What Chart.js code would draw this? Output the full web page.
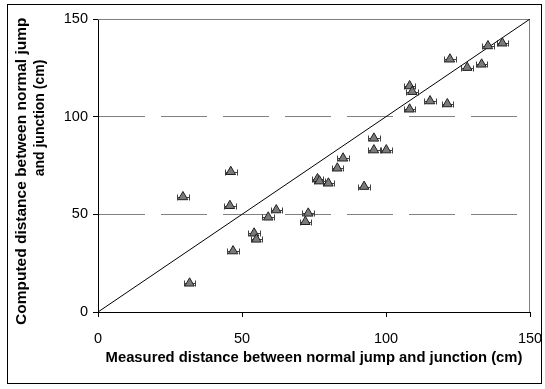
<!DOCTYPE html>
<html>
<head>
<meta charset="utf-8">
<script src="https://cdn.jsdelivr.net/npm/chart.js@4/dist/chart.umd.min.js"></script>
<style>
  html, body { margin: 0; padding: 0; background: #fff; }
  #wrap { position: relative; width: 545px; height: 389px; }
  #frame { position: absolute; left: 7px; top: 4px; width: 535px; height: 380px; border: 1px solid #000; box-sizing: border-box; pointer-events: none; }
  canvas { position: absolute; left: 0; top: 0; }
</style>
</head>
<body>
<div id="wrap">
  <canvas id="c" width="545" height="389"></canvas>
  <div id="frame"></div>
</div>
<script>
// Measured vs computed distance between normal jump and junction (cm)
const measured = [29.5, 31.8, 46.1, 45.8, 46.9, 54.2, 55.0, 59.1, 61.9, 72.0, 73.0,
                  76.2, 76.9, 80.0, 83.1, 85.1, 92.4, 95.8, 95.8, 100.1,
                  108.2, 109.1, 108.2, 115.3, 121.3, 122.2, 128.2, 133.2, 135.4, 140.4];
const computed = [58.9, 14.7, 71.8, 54.4, 31.2, 40.3, 37.2, 48.5, 52.2, 46.2, 50.5,
                  68.1, 67.0, 65.9, 73.6, 78.7, 64.2, 88.9, 82.9, 82.9,
                  115.7, 112.8, 103.8, 108.0, 106.5, 129.4, 125.1, 126.8, 136.2, 137.6];
// horizontal measurement uncertainty (cm)
const measuredErr = [2, 2, 2, 2, 2, 2, 2, 2, 2, 2, 2,
                     2, 2, 2, 2, 2, 2, 2, 2, 2,
                     2, 2, 2, 2, 2, 2, 2, 2, 2, 2];
// line of perfect agreement
const parityX = [0, 150];
const parityY = [0, 150];
const tickValues = [0, 50, 100, 150];

const xTitle = 'Measured distance between normal jump and junction (cm)';
const yTitleLines = ['Computed distance between normal jump', 'and junction (cm)'];

const FONT = "'Liberation Sans', Arial, sans-serif";

const pts = measured.map((x, i) => ({ x: x, y: computed[i] }));
const parity = parityX.map((x, i) => ({ x: x, y: parityY[i] }));

// horizontal error bars with end caps
const errorBars = {
  id: 'errorBars',
  beforeDatasetsDraw(chart) {
    const { ctx, scales: { x, y } } = chart;
    ctx.save();
    ctx.strokeStyle = '#404040';
    ctx.lineWidth = 1;
    measured.forEach((m, i) => {
      const py = Math.round(y.getPixelForValue(computed[i])) + 0.5;
      const x1 = Math.round(x.getPixelForValue(m - measuredErr[i])) + 0.5;
      const x2 = Math.round(x.getPixelForValue(m + measuredErr[i])) + 0.5;
      ctx.beginPath();
      ctx.moveTo(x1, py); ctx.lineTo(x2, py);
      ctx.moveTo(x1, py - 3); ctx.lineTo(x1, py + 3);
      ctx.moveTo(x2, py - 3); ctx.lineTo(x2, py + 3);
      ctx.stroke();
    });
    ctx.restore();
  }
};

// grey outline on the top and right of the plot area
const plotFrame = {
  id: 'plotFrame',
  beforeDatasetsDraw(chart) {
    const { ctx, chartArea: a } = chart;
    ctx.save();
    ctx.strokeStyle = '#808080';
    ctx.lineWidth = 1;
    ctx.beginPath();
    ctx.moveTo(a.left, a.top + 0.5);
    ctx.lineTo(a.right - 0.5, a.top + 0.5);
    ctx.lineTo(a.right - 0.5, a.bottom);
    ctx.stroke();
    ctx.restore();
  }
};

// two-line rotated title for the vertical axis
const yAxisTitle = {
  id: 'yAxisTitle',
  afterDraw(chart) {
    const { ctx } = chart;
    ctx.save();
    ctx.font = 'bold 15.5px ' + FONT;
    ctx.fillStyle = '#000';
    ctx.textBaseline = 'middle';
    ctx.textAlign = 'left';
    ctx.beginPath();
    ctx.rect(8, 5, 100, 378);
    ctx.clip();
    ctx.translate(22, 325);
    ctx.rotate(-Math.PI / 2);
    ctx.fillText(yTitleLines[0], 0, 0);
    ctx.restore();
    ctx.save();
    ctx.font = 'bold 14px ' + FONT;
    ctx.fillStyle = '#000';
    ctx.textBaseline = 'middle';
    ctx.textAlign = 'center';
    ctx.translate(40, 118);
    ctx.rotate(-Math.PI / 2);
    ctx.fillText(yTitleLines[1], 0, 0);
    ctx.restore();
  }
};

// keep the plot area fixed regardless of tick-label overhang
function noOverhang(s) {
  s.paddingLeft = 0; s.paddingRight = 0; s.paddingTop = 0; s.paddingBottom = 0;
}

new Chart(document.getElementById('c'), {
  type: 'scatter',
  data: {
    datasets: [
      {
        label: 'parity',
        data: parity,
        showLine: true,
        borderColor: '#000',
        borderWidth: 1,
        pointRadius: 0,
        order: 2
      },
      {
        label: 'computed',
        data: pts,
        pointStyle: 'triangle',
        pointRadius: 5.5,
        backgroundColor: '#7a7a7a',
        borderColor: '#202020',
        borderWidth: 1,
        order: 1
      }
    ]
  },
  plugins: [errorBars, plotFrame, yAxisTitle],
  options: {
    responsive: false,
    animation: false,
    devicePixelRatio: 1,
    layout: { padding: { left: 0, right: 15, top: 19, bottom: 0 } },
    plugins: { legend: { display: false }, tooltip: { enabled: false } },
    scales: {
      x: {
        type: 'linear',
        min: 0, max: 150,
        afterBuildTicks(s) { s.ticks = tickValues.map(v => ({ value: v })); },
        afterFit(s) { s.height = 77; noOverhang(s); },
        grid: { drawOnChartArea: false, drawTicks: true, tickLength: 5, color: '#000' },
        border: { color: '#000', width: 1 },
        ticks: { color: '#000', font: { family: FONT, size: 14.5 }, padding: 13, maxRotation: 0 },
        title: { display: true, text: xTitle, color: '#000', font: { family: FONT, size: 14.8, weight: 'bold' }, padding: { top: 0, bottom: 22 } }
      },
      y: {
        type: 'linear',
        min: 0, max: 150,
        afterBuildTicks(s) { s.ticks = tickValues.map(v => ({ value: v })); },
        afterFit(s) { s.width = 98; noOverhang(s); },
        grid: {
          drawOnChartArea: true,
          drawTicks: true,
          tickLength: 5,
          tickColor: '#000',
          color: (c) => (c.tick && (c.tick.value === 50 || c.tick.value === 100)) ? '#808080' : 'rgba(0,0,0,0)'
        },
        border: { color: '#000', width: 1, dash: [46, 16] },
        ticks: { color: '#000', font: { family: FONT, size: 14.5 }, padding: 5 }
      }
    }
  }
});
</script>
</body>
</html>
